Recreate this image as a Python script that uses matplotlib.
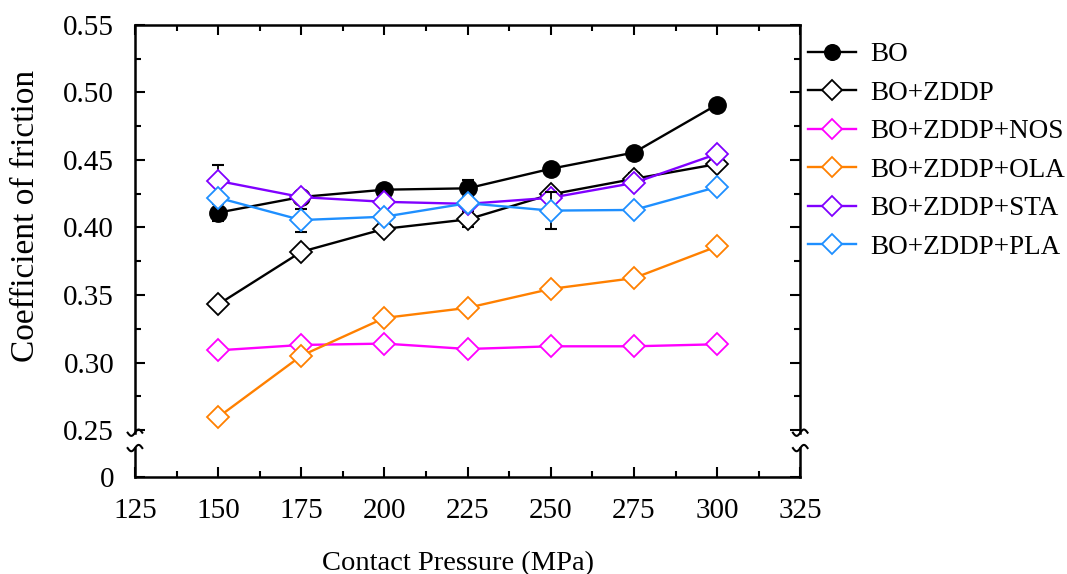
import numpy as np
import matplotlib
matplotlib.use("Agg")
import matplotlib.pyplot as plt
from matplotlib.lines import Line2D

plt.rcParams['font.family'] = ['Liberation Serif', 'DejaVu Serif']

# contact pressure (MPa)
pressure = [150, 175, 200, 225, 250, 275, 300]

# coefficient of friction for each oil
bo = [0.411, 0.4226, 0.428, 0.429, 0.4435, 0.4555, 0.491]
bo_zddp = [0.343, 0.382, 0.399, 0.406, 0.4245, 0.436, 0.447]
bo_nos = [0.309, 0.313, 0.314, 0.310, 0.312, 0.312, 0.3135]
bo_ola = [0.2595, 0.305, 0.333, 0.3405, 0.3545, 0.3625, 0.386]
bo_sta = [0.4345, 0.4225, 0.419, 0.4175, 0.422, 0.433, 0.4545]
bo_pla = [0.422, 0.4055, 0.408, 0.418, 0.4125, 0.413, 0.430]

# error bars (std)
bo_err = [0.0065, 0.003, 0.002, 0.0065, 0.002, 0.002, 0.002]
bo_zddp_err = [0.002, 0.002, 0.002, 0.006, 0.002, 0.004, 0.003]
bo_nos_err = [0.002, 0.002, 0.002, 0.002, 0.002, 0.002, 0.002]
bo_ola_err = [0.002, 0.002, 0.002, 0.002, 0.002, 0.002, 0.003]
bo_sta_err = [0.012, 0.003, 0.002, 0.002, 0.002, 0.003, 0.003]
bo_pla_err = [0.003, 0.0085, 0.002, 0.003, 0.0135, 0.002, 0.002]

names = ['BO', 'BO+ZDDP', 'BO+ZDDP+NOS', 'BO+ZDDP+OLA', 'BO+ZDDP+STA', 'BO+ZDDP+PLA']
series = [bo, bo_zddp, bo_nos, bo_ola, bo_sta, bo_pla]
errs = [bo_err, bo_zddp_err, bo_nos_err, bo_ola_err, bo_sta_err, bo_pla_err]
colors = ['black', 'black', '#FF00FF', '#FF8000', '#8000FF', '#1E8FFF']

y_zero = 0.2152  # position where "0" sits below the axis break

fig = plt.figure(figsize=(10.67, 5.74), dpi=100)
ax = fig.add_axes([0.1265, 0.169, 0.6235, 0.7875])

for i, (name, ys, e, c) in enumerate(zip(names, series, errs, colors)):
    ax.errorbar(pressure, ys, yerr=e, fmt='none', ecolor='black', elinewidth=1.3,
                capsize=4, capthick=1.5, zorder=2 + i)
    if i == 0:
        ax.plot(pressure, ys, '-o', color=c, lw=1.7, ms=12.5, mfc='black', mec='black',
                label=name, zorder=3 + i)
    else:
        ax.plot(pressure, ys, '-D', color=c, lw=1.7, ms=11, mfc='white', mec=c,
                mew=1.3, label=name, zorder=3 + i)

ax.set_xlim(125, 325)
ax.set_ylim(y_zero, 0.55)
ax.set_xticks(np.arange(125, 326, 25))
ax.set_xticks(np.arange(137.5, 325, 25), minor=True)
ax.set_yticks([y_zero] + list(np.arange(0.25, 0.551, 0.05)))
ax.set_yticklabels(['0'] + ['%.2f' % v for v in np.arange(0.25, 0.551, 0.05)])
ax.set_yticks(np.arange(0.275, 0.55, 0.05), minor=True)
ax.tick_params(which='both', direction='in', top=True, right=True, width=1.5,
               labelsize=21, pad=15)
ax.tick_params(which='major', length=7)
ax.tick_params(which='minor', length=4)

for s in ['top', 'bottom']:
    ax.spines[s].set_linewidth(1.8)
ax.spines['left'].set_visible(False)
ax.spines['right'].set_visible(False)

# broken left/right axis lines with curls
y_up = 0.098
y_lo = 0.064
t = np.linspace(-1, 1, 40)
for xs in (0, 1):
    ax.add_line(Line2D([xs, xs], [y_up, 1], transform=ax.transAxes, color='black',
                       lw=1.8, clip_on=False))
    ax.add_line(Line2D([xs, xs], [0, y_lo], transform=ax.transAxes, color='black',
                       lw=1.8, clip_on=False))
    for y0 in (y_up, y_lo):
        ax.add_line(Line2D(xs + 0.011 * t, y0 + 0.007 * np.sin(np.pi * t),
                           transform=ax.transAxes, color='black', lw=1.5,
                           clip_on=False))

ax.set_xlabel('Contact Pressure (MPa)', fontsize=20.5)
ax.set_ylabel('Coefficient of friction', fontsize=24)
ax.xaxis.set_label_coords(0.486, -0.163)
ax.yaxis.set_label_coords(-0.142, 0.577)

ax.legend(loc='upper left', bbox_to_anchor=(1.012, 0.962), frameon=False, fontsize=19.5,
          handlelength=1.75, handletextpad=0.55, labelspacing=0.5, borderaxespad=0,
          borderpad=0, markerscale=0.9)

fig.savefig('out.png', dpi=100)
